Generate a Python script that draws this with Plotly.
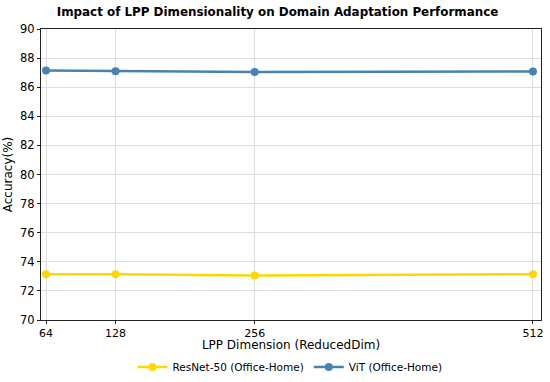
import plotly.graph_objects as go

dims = [64, 128, 256, 512]
resnet = [73.15, 73.15, 73.05, 73.15]
vit = [87.15, 87.1, 87.05, 87.08]
y_ticks = [70, 72, 74, 76, 78, 80, 82, 84, 86, 88, 90]

fig = go.Figure()
fig.add_trace(go.Scatter(x=dims, y=resnet, mode="lines+markers", name="ResNet-50 (Office-Home)",
                         line=dict(color="#FFD700", width=2.5), marker=dict(size=8, color="#FFD700")))
fig.add_trace(go.Scatter(x=dims, y=vit, mode="lines+markers", name="ViT (Office-Home)",
                         line=dict(color="#4682B4", width=2.5), marker=dict(size=8, color="#4682B4")))

fig.update_layout(
    width=550, height=382,
    font=dict(family="DejaVu Sans", size=11.5, color="black"),
    paper_bgcolor="white", plot_bgcolor="white",
    margin=dict(l=41, r=9, t=29, b=62),
    title=dict(text="<b>Impact of LPP Dimensionality on Domain Adaptation Performance</b>",
               x=(57 + 498) / 2 / 550, xanchor="center", xref="container",
               y=(382 - 12) / 382, yanchor="middle", font=dict(size=11.9)),
    xaxis=dict(range=[59.4, 519.4], tickvals=dims, ticktext=[str(d) for d in dims],
               automargin=False, tickfont=dict(size=11),
               showgrid=True, gridcolor="#dddddd", gridwidth=1,
               showline=True, linecolor="#222222", linewidth=1.2, mirror=True,
               ticks="outside", ticklen=3, tickcolor="#222222", zeroline=False,
               title=dict(text="LPP Dimension (ReducedDim)", standoff=5, font=dict(size=12))),
    yaxis=dict(range=[70, 90], tickvals=y_ticks,
               automargin=False,
               showgrid=True, gridcolor="#dddddd", gridwidth=1,
               showline=True, linecolor="#222222", linewidth=1.2, mirror=True,
               ticks="outside", ticklen=3, tickcolor="#222222", zeroline=False,
               title=dict(text="Accuracy(%)", standoff=4, font=dict(size=12))),
    legend=dict(orientation="h", x=290 / 550, xanchor="center", xref="container",
                y=(382 - 367) / 382, yanchor="middle", yref="container",
                font=dict(size=10.5), bgcolor="rgba(0,0,0,0)", itemwidth=30),
    showlegend=True,
)

fig.write_html("out.html", config={"displayModeBar": False},
               post_script="document.body.style.margin='0';")
